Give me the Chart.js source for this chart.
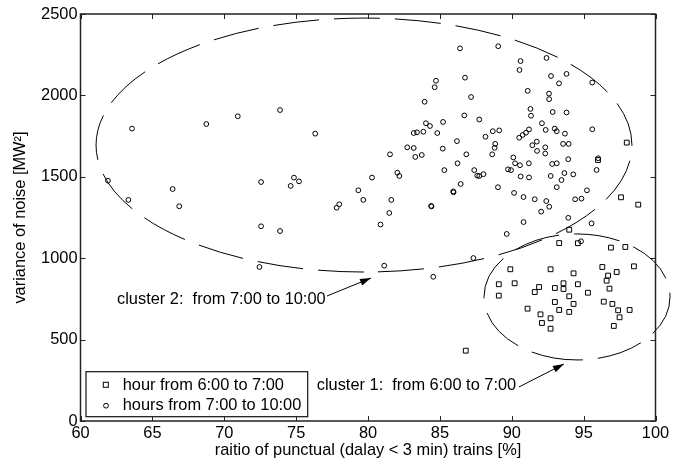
<!DOCTYPE html>
<html>
<head>
<meta charset="utf-8">
<script src="https://cdn.jsdelivr.net/npm/chart.js@4.4.0/dist/chart.umd.min.js"></script>
<style>
  html, body { margin: 0; padding: 0; background: #fff; }
  #wrap { width: 676px; height: 462px; }
</style>
</head>
<body>
<div id="wrap"><canvas id="noiseChart"></canvas></div>
<script>
// hour from 6:00 to 7:00 (squares)
const earlyX = [98.0, 96.0, 97.6, 98.8, 94.0, 93.3, 94.6, 96.9, 97.9, 89.9,
                92.7, 94.3, 96.3, 97.3, 98.5, 96.7, 96.6, 96.8, 89.1, 90.2,
                89.1, 91.6, 91.9, 93.0, 93.6, 93.6, 94.6, 95.3, 94.0, 93.0,
                94.3, 91.1, 93.3, 94.0, 92.0, 92.7, 92.1, 92.7, 96.4, 97.0,
                97.4, 98.2, 97.5, 97.1, 86.8];
const earlyY = [1710, 1603, 1374, 1329, 1175, 1093, 1092, 1065, 1069, 932,
                932, 907, 946, 915, 950, 893, 862, 813, 840, 846,
                770, 792, 823, 817, 846, 811, 840, 788, 766, 731,
                719, 690, 682, 670, 655, 631, 602, 567, 733, 719,
                680, 682, 637, 584, 432];

// hours from 7:00 to 10:00 (circles)
const peakX = [61.91, 63.33, 63.58, 66.41, 66.87, 68.75, 70.94, 72.56, 72.56, 72.45,
               73.88, 73.88, 74.85, 74.62, 75.2, 76.33, 77.82, 78.0, 79.33, 79.67,
               80.28, 81.13, 80.87, 81.48, 81.62, 81.53, 82.04, 82.18, 82.73, 83.18,
               83.18, 83.41, 83.85, 83.29, 83.74, 83.94, 84.39, 84.54, 84.03, 84.31,
               84.73, 84.64, 84.82, 85.22, 85.2, 85.31, 85.93, 86.19, 86.23, 86.4,
               86.45, 86.75, 86.7, 86.84, 87.17, 87.33, 87.39, 87.6, 87.74, 88.03,
               87.74, 88.17, 88.68, 89.13, 88.64, 88.85, 88.81, 89.06, 89.04, 89.65,
               89.74, 89.95, 90.11, 90.23, 90.57, 91.19, 90.16, 90.61, 90.54, 90.62,
               91.2, 90.82, 90.82, 91.11, 91.3, 91.34, 90.52, 90.76, 90.99, 91.2,
               91.6, 91.74, 91.43, 91.76, 92.33, 92.33, 92.1, 92.36, 92.42, 92.59,
               92.6, 92.73, 92.85, 92.99, 93.13, 92.81, 93.13, 92.71, 93.13, 92.4,
               92.61, 92.05, 93.29, 93.57, 93.96, 93.7, 93.81, 93.81, 93.66, 93.46,
               93.93, 94.28, 94.41, 94.85, 95.23, 93.93, 94.82, 95.55, 95.6, 95.6,
               96.01, 95.9, 84.42, 85.95];
const peakY = [1476, 1358, 1796, 1425, 1319, 1824, 1872, 1468, 1196, 946,
               1910, 1167, 1495, 1444, 1472, 1765, 1310, 1331, 1417, 1358,
               1495, 954, 1207, 1278, 1358, 1638, 1525, 1505, 1681, 1677,
               1769, 1773, 1777, 1622, 1634, 1961, 1321, 886, 1829, 1812,
               2090, 2050, 1769, 1837, 1673, 1541, 1410, 1719, 1583, 2289,
               1456, 2109, 1877, 1638, 1990, 1001, 1541, 1507, 1505, 1516,
               1852, 1746, 1780, 1785, 1638, 1702, 1678, 2302, 1436, 1149,
               1546, 1541, 1619, 1583, 1571, 1583, 1401, 2211, 2156, 1502,
               1496, 1376, 1222, 2028, 1917, 1875, 1740, 1757, 1771, 1791,
               1362, 1716, 1694, 1659, 1681, 1643, 1829, 1788, 2230, 2011,
               1977, 2119, 1898, 1796, 1780, 1579, 1583, 1505, 1436, 1351,
               1316, 1286, 2074, 1702, 1702, 1765, 2132, 1895, 1523, 1480,
               1608, 1515, 1362, 1366, 1417, 1248, 1104, 1214, 2079, 1792,
               1614, 1542, 1318, 1405];

const xTicks = [60, 65, 70, 75, 80, 85, 90, 95, 100];
const yTicks = [0, 500, 1000, 1500, 2000, 2500];

const seriesNames = ['hour from 6:00 to 7:00', 'hours from 7:00 to 10:00'];

// cluster outlines in data units (cluster 2, cluster 1)
const clusterCx = [79.72, 94.54];
const clusterCy = [1695, 762];
const clusterRx = [18.64, 6.47];
const clusterRy = [780, 387];
const clusterText = ['cluster 2:  from 7:00 to 10:00', 'cluster 1:  from 6:00 to 7:00'];

const FONT = '"Liberation Sans", Arial, sans-serif';
const FSIZE = 16.4;

function toPoints(xs, ys) {
    const pts = [];
    for (let i = 0; i < Math.min(xs.length, ys.length); i++) pts.push({ x: xs[i], y: ys[i] });
    return pts;
}

function arrow(ctx, x1, y1, x2, y2) {
    ctx.beginPath();
    ctx.moveTo(x1, y1);
    ctx.lineTo(x2, y2);
    ctx.stroke();
    const a = Math.atan2(y2 - y1, x2 - x1), len = 11, w = 3.5;
    ctx.beginPath();
    ctx.moveTo(x2, y2);
    ctx.lineTo(x2 - len * Math.cos(a) + w * Math.sin(a), y2 - len * Math.sin(a) - w * Math.cos(a));
    ctx.lineTo(x2 - len * Math.cos(a) - w * Math.sin(a), y2 - len * Math.sin(a) + w * Math.cos(a));
    ctx.closePath();
    ctx.fill();
}

// matlab-like frame, inward ticks, cluster ellipses, notes and legend
const decorations = {
    id: 'decorations',
    afterDraw(chart) {
        const ctx = chart.ctx;
        const a = chart.chartArea;
        const xs = chart.scales.x, ys = chart.scales.y;
        ctx.save();

        // cluster ellipses
        ctx.strokeStyle = '#000';
        ctx.lineWidth = 1;
        ctx.setLineDash([46, 15]);
        for (let i = 0; i < clusterCx.length; i++) {
            const cx = xs.getPixelForValue(clusterCx[i]);
            const cy = ys.getPixelForValue(clusterCy[i]);
            const rx = xs.getPixelForValue(clusterCx[i] + clusterRx[i]) - cx;
            const ry = cy - ys.getPixelForValue(clusterCy[i] + clusterRy[i]);
            ctx.beginPath();
            ctx.ellipse(cx, cy, rx, ry, 0, Math.PI * 0.5, Math.PI * 2.5);
            ctx.stroke();
        }
        ctx.setLineDash([]);

        // frame and inward ticks
        ctx.strokeStyle = '#222';
        ctx.lineWidth = 1.5;
        ctx.strokeRect(a.left, a.top, a.right - a.left, a.bottom - a.top);
        ctx.lineWidth = 1;
        const tl = 5;
        ctx.beginPath();
        xTicks.forEach(v => {
            const p = Math.round(xs.getPixelForValue(v)) + 0.5;
            ctx.moveTo(p, a.bottom); ctx.lineTo(p, a.bottom - tl);
            ctx.moveTo(p, a.top); ctx.lineTo(p, a.top + tl);
        });
        yTicks.forEach(v => {
            const p = Math.round(ys.getPixelForValue(v)) + 0.5;
            ctx.moveTo(a.left, p); ctx.lineTo(a.left + tl, p);
            ctx.moveTo(a.right, p); ctx.lineTo(a.right - tl, p);
        });
        ctx.stroke();

        // axis titles
        ctx.fillStyle = '#000';
        ctx.font = FSIZE + 'px ' + FONT;
        ctx.textAlign = 'center';
        ctx.textBaseline = 'middle';
        ctx.fillText('raitio of punctual (dalay < 3 min) trains [%]', (a.left + a.right) / 2, 450);
        ctx.save();
        ctx.translate(20, (a.top + a.bottom) / 2);
        ctx.rotate(-Math.PI / 2);
        ctx.fillText('variance of noise [MW\u00B2]', 0, 0);
        ctx.restore();

        // cluster notes with arrows
        ctx.textAlign = 'left';
        ctx.fillText(clusterText[0], xs.getPixelForValue(62.54), ys.getPixelForValue(749));
        ctx.fillText(clusterText[1], xs.getPixelForValue(76.43), ys.getPixelForValue(221));
        ctx.strokeStyle = '#000';
        ctx.lineWidth = 1;
        arrow(ctx, xs.getPixelForValue(77.15), ys.getPixelForValue(768),
                   xs.getPixelForValue(80.21), ys.getPixelForValue(878));
        arrow(ctx, xs.getPixelForValue(90.5), ys.getPixelForValue(209),
                   xs.getPixelForValue(93.63), ys.getPixelForValue(350));

        // legend box
        const lx = a.left + 5.5, ly = a.bottom - 49.3, lw = 221.7, lh = 45;
        ctx.fillStyle = '#fff';
        ctx.fillRect(lx, ly, lw, lh);
        ctx.strokeStyle = '#111';
        ctx.lineWidth = 1.2;
        ctx.strokeRect(lx, ly, lw, lh);
        ctx.lineWidth = 1;
        ctx.strokeStyle = '#000';
        ctx.strokeRect(lx + 17.3, ly + 10.6, 5, 5);
        ctx.beginPath();
        ctx.arc(lx + 20, ly + 34, 2.4, 0, Math.PI * 2);
        ctx.stroke();
        ctx.fillStyle = '#000';
        ctx.fillText(seriesNames[0], lx + 36.7, ly + 13.3);
        ctx.fillText(seriesNames[1], lx + 36.7, ly + 34);

        ctx.restore();
    }
};

const ctx = document.getElementById('noiseChart').getContext('2d');
const noiseChart = new Chart(ctx, {
    type: 'scatter',
    data: {
        datasets: [{
            label: seriesNames[0],
            data: toPoints(earlyX, earlyY),
            pointStyle: 'rect',
            pointRadius: 3.4,
            borderColor: '#000',
            backgroundColor: 'rgba(0,0,0,0)',
            borderWidth: 1
        }, {
            label: seriesNames[1],
            data: toPoints(peakX, peakY),
            pointStyle: 'circle',
            pointRadius: 2.4,
            borderColor: '#000',
            backgroundColor: 'rgba(0,0,0,0)',
            borderWidth: 1
        }]
    },
    options: {
        responsive: true,
        maintainAspectRatio: false,
        animation: false,
        layout: { padding: { top: 14, right: 20.5, left: 0, bottom: 0 } },
        plugins: {
            legend: { display: false },
            tooltip: { enabled: false }
        },
        scales: {
            x: {
                type: 'linear',
                min: xTicks[0],
                max: xTicks[xTicks.length - 1],
                grid: { display: false, drawTicks: false },
                border: { display: false },
                ticks: {
                    stepSize: xTicks[1] - xTicks[0],
                    color: '#000',
                    padding: 3,
                    maxRotation: 0,
                    font: { family: FONT, size: FSIZE },
                    callback: v => String(v)
                },
                afterFit: function(scale) { scale.height = 41; }
            },
            y: {
                type: 'linear',
                min: yTicks[0],
                max: yTicks[yTicks.length - 1],
                grid: { display: false, drawTicks: false },
                border: { display: false },
                ticks: {
                    stepSize: yTicks[1] - yTicks[0],
                    color: '#000',
                    padding: 3,
                    font: { family: FONT, size: FSIZE },
                    callback: v => String(v)
                },
                afterFit: function(scale) { scale.width = 80.5; }
            }
        }
    },
    plugins: [decorations]
});
</script>
</body>
</html>
